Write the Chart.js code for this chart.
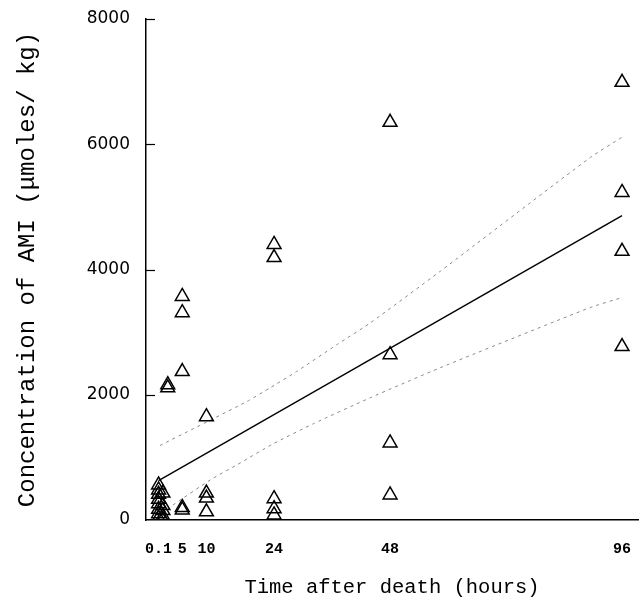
<!DOCTYPE html>
<html>
<head>
<meta charset="utf-8">
<script src="https://cdn.jsdelivr.net/npm/chart.js@4/dist/chart.umd.min.js"></script>
<style>
  html, body { margin: 0; padding: 0; background: #fff; }
  #wrap { width: 640px; height: 600px; }
</style>
</head>
<body>
<div id="wrap"><canvas id="c" width="640" height="600"></canvas></div>
<script>
// Observed concentrations
const obsTime = [
  0.1, 0.1, 0.1, 0.1, 0.1, 0.1, 0.1, 0.1,
  1, 1, 1, 1, 1,
  2, 2,
  5, 5, 5, 5, 5,
  10, 10, 10, 10,
  24, 24, 24, 24, 24,
  48, 48, 48, 48,
  96, 96, 96, 96
];
const obsAMI = [
  560, 480, 410, 330, 260, 170, 100, 30,
  430, 230, 150, 60, 10,
  2160, 2110,
  3570, 3310, 2370, 200, 160,
  1650, 430, 350, 130,
  4400, 4190, 340, 180, 80,
  6350, 2640, 1230, 400,
  6990, 5230, 4290, 2770
];
// Regression line
const fitTime = [0.1, 96];
const fitAMI = [630, 4860];
// Confidence band (dotted)
const upperTime = [0.4, 18.4, 23.2, 28.7, 37, 43.9, 58.4, 89.4, 96];
const upperAMI = [1190, 1893, 2112, 2373, 2800, 3147, 3973, 5787, 6112];
const lowerTime = [3.1, 10.8, 16.3, 23.8, 32.1, 43.9, 58.4, 89.4, 96];
const lowerAMI = [240, 640, 880, 1216, 1536, 1952, 2432, 3392, 3552];
// Axis ticks
const xTickValues = [0.1, 5, 10, 24, 48, 96];
const yTickValues = [0, 2000, 4000, 6000, 8000];

const pts = (xs, ys) => xs.map((x, i) => ({ x: x, y: ys[i] }));

const innerTicks = {
  id: 'innerTicks',
  afterDraw(chart) {
    const ctx = chart.ctx;
    const ys = chart.scales.y;
    ctx.save();
    ctx.strokeStyle = '#000';
    ctx.lineWidth = 1.2;
    yTickValues.forEach(v => {
      if (v === 0) return;
      const py = Math.round(ys.getPixelForValue(v)) + 0.5;
      ctx.beginPath();
      ctx.moveTo(ys.right, py);
      ctx.lineTo(ys.right + 9, py);
      ctx.stroke();
    });
    ctx.restore();
  }
};

new Chart(document.getElementById('c'), {
  type: 'scatter',
  data: {
    datasets: [
      {
        label: 'Observed',
        data: pts(obsTime, obsAMI),
        pointStyle: 'triangle',
        radius: 8,
        borderColor: '#000',
        backgroundColor: 'rgba(255,255,255,0)',
        borderWidth: 1.5,
        order: 0
      },
      {
        label: 'Fit',
        type: 'line',
        data: pts(fitTime, fitAMI),
        borderColor: '#000',
        borderWidth: 1.4,
        pointRadius: 0,
        fill: false,
        order: 1
      },
      {
        label: 'Upper',
        type: 'line',
        data: pts(upperTime, upperAMI),
        borderColor: '#8a8a8a',
        borderWidth: 1,
        borderDash: [3, 4],
        pointRadius: 0,
        fill: false,
        tension: 0.2,
        order: 2
      },
      {
        label: 'Lower',
        type: 'line',
        data: pts(lowerTime, lowerAMI),
        borderColor: '#8a8a8a',
        borderWidth: 1,
        borderDash: [3, 4],
        pointRadius: 0,
        fill: false,
        tension: 0.2,
        order: 2
      }
    ]
  },
  options: {
    responsive: false,
    animation: false,
    devicePixelRatio: 1,
    layout: { autoPadding: false, padding: { left: 0, right: 2, top: 19, bottom: 0 } },
    plugins: {
      legend: { display: false },
      tooltip: { enabled: false }
    },
    scales: {
      x: {
        type: 'linear',
        min: -2.5,
        max: 99.3,
        afterBuildTicks: (s) => { s.ticks = xTickValues.map(v => ({ value: v })); },
        afterFit: (s) => { s.height = 80; s.paddingLeft = 0; s.paddingRight = 0; },
        grid: {
          display: true,
          drawOnChartArea: false,
          drawTicks: true,
          tickLength: 20,
          tickColor: 'rgba(0,0,0,0)'
        },
        border: { display: true, color: '#000', width: 1.5 },
        ticks: {
          autoSkip: false,
          maxRotation: 0,
          padding: 0,
          color: '#000',
          font: { family: 'Liberation Mono', size: 15, weight: 'bold' },
          callback: (v) => String(v)
        },
        title: {
          display: true,
          text: 'Time after death (hours)',
          color: '#000',
          font: { family: 'Liberation Mono', size: 20.5 },
          padding: { top: 0, bottom: 0 }
        }
      },
      y: {
        min: 0,
        max: 8000,
        afterBuildTicks: (s) => { s.ticks = yTickValues.map(v => ({ value: v })); },
        afterFit: (s) => { s.width = 146; s.paddingTop = 0; s.paddingBottom = 0; },
        grid: { display: true, drawOnChartArea: false, drawTicks: false },
        border: { display: true, color: '#000', width: 1.5 },
        ticks: {
          padding: 16,
          color: '#000',
          font: { family: 'DejaVu Sans', size: 17 },
          callback: (v) => String(v)
        },
        title: {
          display: true,
          text: 'Concentration of AMI (μmoles/ kg)',
          color: '#000',
          font: { family: 'Liberation Mono', size: 24 },
          padding: { top: 13, bottom: 0 }
        }
      }
    }
  },
  plugins: [innerTicks]
});
</script>
</body>
</html>
